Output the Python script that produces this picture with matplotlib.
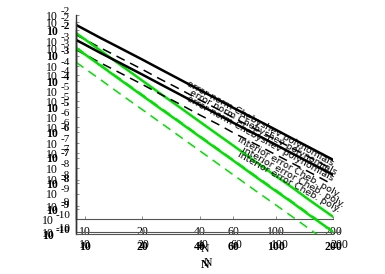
import matplotlib
matplotlib.use("Agg")
import matplotlib.pyplot as plt
from matplotlib.ticker import FixedLocator, FuncFormatter, NullLocator, NullFormatter

# ---- data ----
N = [9, 10, 12, 15, 20, 25, 30, 40, 50, 60, 80, 100, 120, 150, 200]
err_norm_cheb = [4.1e-3, 2.7e-3, 1.3e-3, 5.5e-4, 1.8e-4, 7.4e-5, 3.6e-5, 1.15e-5,
                 4.8e-6, 2.3e-6, 7.6e-7, 3.2e-7, 1.55e-7, 6.5e-8, 2.1e-8]
err_norm_other = [1.7e-3, 1.1e-3, 5.3e-4, 2.25e-4, 7.4e-5, 3.0e-5, 1.5e-5, 4.7e-6,
                  2.0e-6, 9.4e-7, 3.1e-7, 1.3e-7, 6.4e-8, 2.7e-8, 8.6e-9]
interior_cheb = [1.95e-3, 1.12e-3, 4.2e-4, 1.26e-4, 2.7e-5, 8.1e-6, 3.1e-6, 6.6e-7,
                 2.0e-7, 7.6e-8, 1.6e-8, 4.9e-9, 1.9e-9, 5.6e-10, 1.23e-10]
interior_other = [5.5e-4, 3.1e-4, 1.18e-4, 3.5e-5, 7.6e-6, 2.3e-6, 8.7e-7, 1.85e-7,
                  5.6e-8, 2.1e-8, 4.5e-9, 1.4e-9, 5.3e-10, 1.6e-10, 3.4e-11]
x_ticks = [10, 20, 40, 60, 100, 200]
y_exps = [-2, -3, -4, -5, -6, -7, -8, -9, -10]
label_norm = "error norm Chebyshev polynomials"
label_interior = "interior error Cheb. poly."
x_name = "N"

W, H = 385, 274
fig = plt.figure(figsize=(W / 100, H / 100), dpi=100)


def px_axes(left, top, right, bottom):
    return fig.add_axes([left / W, 1 - bottom / H, (right - left) / W, (bottom - top) / H])


green = '#00e000'
serif = 'Liberation Serif'


def setup(ax, bold, draw_lines, draw_text):
    ax.set_xscale('log')
    ax.set_yscale('log')
    ax.set_xlim(9, 200)
    ax.set_ylim(1e-10, 1e-2)
    ax.patch.set_alpha(0)
    for s in ['top', 'right']:
        ax.spines[s].set_visible(False)
    ax.spines['left'].set_color('#333333')
    ax.spines['bottom'].set_color('#555555')
    ax.spines['left'].set_linewidth(1.0)
    ax.spines['bottom'].set_linewidth(0.8)
    ax.xaxis.set_major_locator(FixedLocator(x_ticks))
    ax.xaxis.set_minor_locator(NullLocator())
    ax.yaxis.set_major_locator(FixedLocator([10.0 ** e for e in y_exps]))
    ax.yaxis.set_minor_locator(NullLocator())
    ax.yaxis.set_major_formatter(NullFormatter())
    weight = 'bold' if bold else 'normal'
    ax.xaxis.set_major_formatter(FuncFormatter(lambda v, p: f"{int(round(v))}"))
    ax.tick_params(axis='both', direction='in', length=2.5, width=0.6, color='#777777',
                   labelsize=8.5, pad=5)
    for lab in ax.get_xticklabels():
        lab.set_family(serif)
        lab.set_fontweight(weight)
    ax.set_xlabel(x_name, family=serif, fontsize=8.5, fontweight=weight, labelpad=4)
    # y tick labels: "10" with a full-size raised exponent
    for e in y_exps:
        exp_txt = f"-{abs(e)}"
        exp_w = 11 if abs(e) < 10 else 15
        ax.annotate(exp_txt, xy=(0, 10.0 ** e), xycoords=('axes fraction', 'data'),
                    xytext=(-6, 1), textcoords='offset pixels', ha='right', va='baseline',
                    fontsize=8, family=serif, fontweight=weight, annotation_clip=False)
        ax.annotate("10", xy=(0, 10.0 ** e), xycoords=('axes fraction', 'data'),
                    xytext=(-7 - exp_w, -5), textcoords='offset pixels', ha='right',
                    va='baseline', fontsize=8.5, family=serif, fontweight=weight,
                    annotation_clip=False)
    if draw_lines:
        ax.plot(N, err_norm_cheb, color='black', lw=1.8)
        ax.plot(N, err_norm_other, color='black', lw=1.1, dashes=(6, 4))
        ax.plot(N, interior_cheb, color=green, lw=1.8)
        ax.plot(N, interior_other, color=green, lw=1.1, dashes=(6, 4))
    if draw_text:
        ax.text(34, 1.8e-5, label_norm, rotation=-29, rotation_mode='anchor',
                ha='left', va='baseline', fontsize=6.8, family='DejaVu Sans')
        ax.text(63, 1.15e-7, label_interior, rotation=-29, rotation_mode='anchor',
                ha='left', va='baseline', fontsize=6.8, family='DejaVu Sans')


ax1 = px_axes(76, 15, 333, 219)
ax3 = px_axes(76, 22, 339, 232)
ax2 = px_axes(76, 30, 333, 234)

setup(ax1, bold=False, draw_lines=True, draw_text=True)
setup(ax3, bold=False, draw_lines=False, draw_text=True)
setup(ax2, bold=True, draw_lines=True, draw_text=True)

fig.savefig("out.png", dpi=100)
